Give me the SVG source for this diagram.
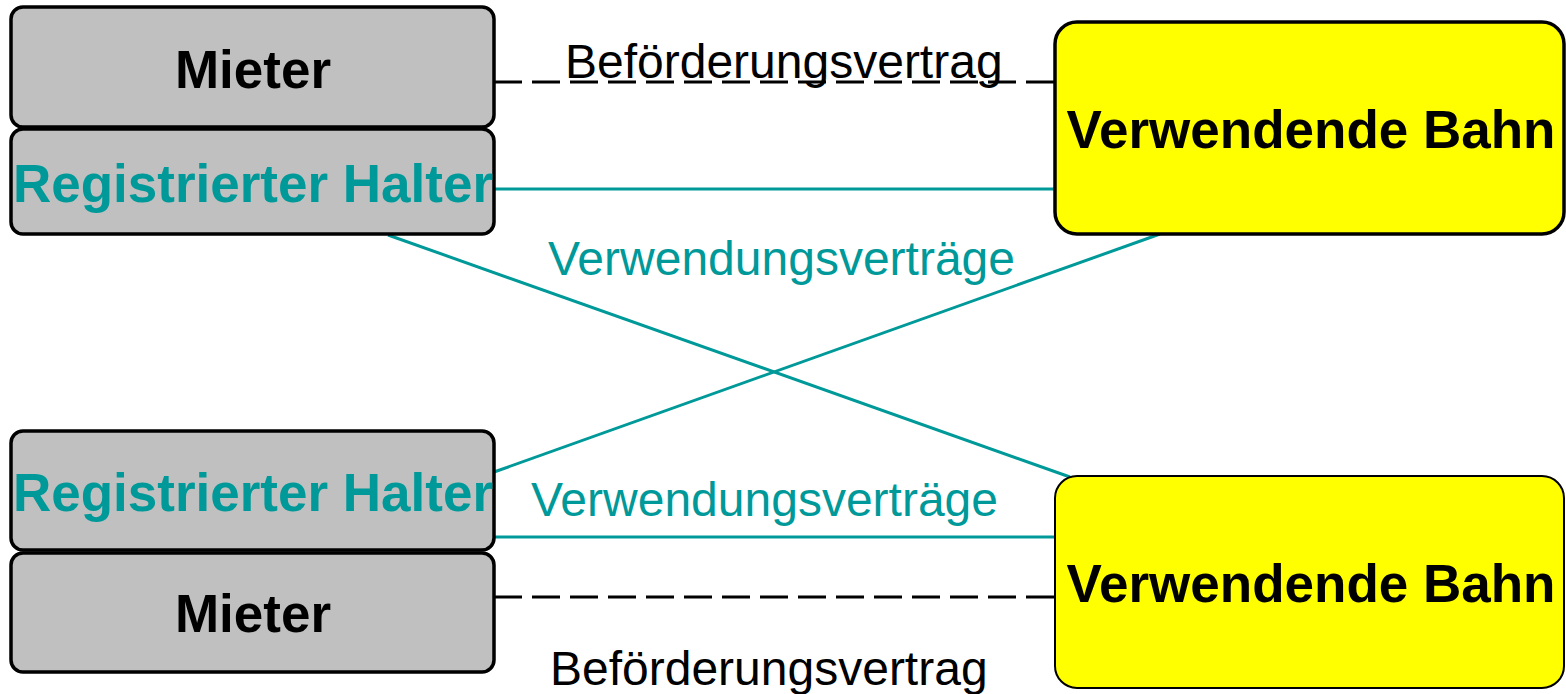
<svg xmlns="http://www.w3.org/2000/svg" width="1566" height="694" viewBox="0 0 1566 694">
<style>
.gray{fill:#c0c0c0;stroke:#000;stroke-width:3.5}
.yellow{fill:#ffff00;stroke:#000;stroke-width:3.5}
.bold{font-family:"Liberation Sans",Arial,sans-serif;font-weight:bold;font-size:53px;text-anchor:middle}
.lbl{font-family:"Liberation Sans",Arial,sans-serif;font-size:48px}
.teal{fill:#009999}
.blk{fill:#000}
.tl{stroke:#009999;stroke-width:3;fill:none}
.dash{stroke:#000;stroke-width:3;stroke-dasharray:28 10;fill:none}
</style>
<rect width="1566" height="694" fill="#fff"/>
<g id="connectors">
<line class="dash" x1="494" y1="82" x2="1055" y2="82"/>
<line class="tl" x1="494" y1="189" x2="1055" y2="189"/>
<line class="tl" x1="388" y1="235" x2="1070" y2="477"/>
<line class="tl" x1="494" y1="472" x2="1160" y2="234"/>
<line class="tl" x1="494" y1="537" x2="1055" y2="537"/>
<line class="dash" x1="494" y1="597" x2="1055" y2="597"/>
<text class="lbl blk" x="565" y="78">Beförderungsvertrag</text>
<text class="lbl teal" x="548" y="275">Verwendungsverträge</text>
<text class="lbl teal" x="531" y="516">Verwendungsverträge</text>
<text class="lbl blk" x="550" y="685">Beförderungsvertrag</text>
</g>
<g id="mieter-top">
<rect class="gray" x="11" y="7" width="483" height="120" rx="12"/>
<text class="bold blk" x="253" y="88">Mieter</text>
</g>
<g id="halter-top">
<rect class="gray" x="11" y="129" width="483" height="105" rx="12"/>
<text class="bold teal" x="253" y="202">Registrierter Halter</text>
</g>
<g id="bahn-top">
<rect class="yellow" x="1055" y="22" width="509" height="212" rx="22"/>
<text class="bold blk" x="1311" y="148">Verwendende Bahn</text>
</g>
<g id="halter-bottom">
<rect class="gray" x="11" y="431" width="483" height="119" rx="12"/>
<text class="bold teal" x="253" y="511">Registrierter Halter</text>
</g>
<g id="mieter-bottom">
<rect class="gray" x="11" y="553" width="483" height="119" rx="12"/>
<text class="bold blk" x="253" y="632">Mieter</text>
</g>
<g id="bahn-bottom">
<rect class="yellow" x="1055" y="476" width="509" height="212" rx="22" style="stroke-width:2"/>
<text class="bold blk" x="1311" y="602">Verwendende Bahn</text>
</g>
</svg>
